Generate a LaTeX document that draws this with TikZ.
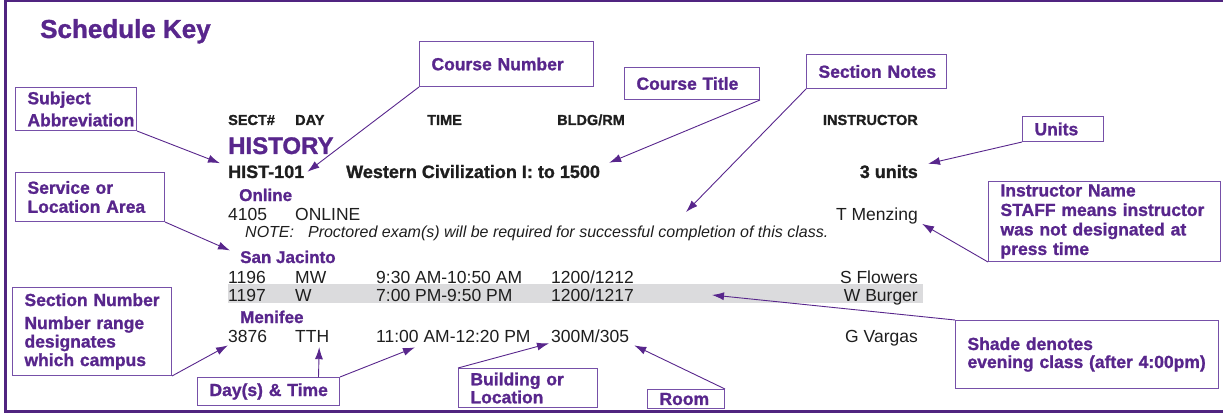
\documentclass[tikz,border=0pt]{standalone}
\usepackage{fontspec}
\setmainfont{Liberation Sans}[BoldFeatures={FakeBold=1.2}]
\usetikzlibrary{arrows.meta}
\definecolor{keypurple}{RGB}{88,38,140}
\definecolor{boxpurple}{RGB}{118,80,168}
\definecolor{framepurple}{RGB}{80,36,128}
\definecolor{rowgray}{RGB}{219,219,221}
\definecolor{ink}{RGB}{30,30,30}
\newcommand{\keysize}[2]{\fontsize{#1}{#2}\selectfont}

\begin{document}
\begin{tikzpicture}[x=1pt, y=-1pt,
  box/.style 2 args={draw=boxpurple, line width=1pt, text=keypurple,
    font=\bfseries\keysize{17.5}{19.5}, align=left, anchor=north west,
    inner xsep=0pt, inner ysep=0pt, text width=#1, minimum height=#2,
    execute at begin node={\leftskip=12pt\relax}},
  arr/.style={keypurple, line width=0.9pt, -{Latex[length=12pt,width=8pt]}},
  hdr/.style={anchor=base west, inner sep=0pt, text=ink, font=\bfseries\keysize{14.5}{16}},
  area/.style={anchor=base west, inner sep=0pt, text=keypurple, font=\bfseries\keysize{17}{19}},
  cell/.style={anchor=base west, inner sep=0pt, text=ink, font=\keysize{17.5}{19}},
  course/.style={anchor=base west, inner sep=0pt, text=ink, font=\bfseries\keysize{18}{20}}]
\useasboundingbox (0,0) rectangle (1223,414);
\draw[framepurple, line width=3pt] (1223,1) -- (5,1) -- (5,411.3) -- (1223,411.3);

% evening row shading
\fill[rowgray] (228,284) rectangle (923,303);

\node[anchor=base west, inner sep=0pt, text=keypurple, font=\bfseries\keysize{26}{30}] (key) at (40,38) {Schedule Key};

% column heads
\node[hdr] (hsect) at (228,125) {SECT\#};
\node[hdr] (hday) at (295,125) {DAY};
\node[hdr] (htime) at (427,125) {TIME};
\node[hdr] (hbldg) at (557,125) {BLDG/RM};
\node[hdr, anchor=base east] (hinstr) at (918,125) {INSTRUCTOR};

\node[anchor=base west, inner sep=0pt, text=keypurple, font=\bfseries\keysize{24}{28}] (subject) at (228,154) {HISTORY};
\node[course] (hcode) at (228,178) {HIST-101};
\node[course] (htitle) at (346,178) {Western Civilization I: to 1500};
\node[course, anchor=base east] (hunits) at (918,178) {3 units};

\node[area] (online) at (239,201) {Online};
\node[cell] (s4105) at (228,220) {4105};
\node[cell] (d4105) at (295,220) {ONLINE};
\node[cell, anchor=base east] (i4105) at (918,220) {T Menzing};
\node[cell, font=\itshape\keysize{16}{18}] (note) at (245,237) {NOTE:\hspace{14pt}Proctored exam(s) will be required for successful completion of this class.};

\node[area] (sanjac) at (240,263) {San Jacinto};
\node[cell] (s1196) at (228,283) {1196};
\node[cell] (d1196) at (295,283) {MW};
\node[cell] (t1196) at (376,283) {9:30 AM-10:50 AM};
\node[cell] (r1196) at (551,283) {1200/1212};
\node[cell, anchor=base east] (i1196) at (918,283) {S Flowers};
\node[cell] (s1197) at (228,301) {1197};
\node[cell] (d1197) at (295,301) {W};
\node[cell] (t1197) at (376,301) {7:00 PM-9:50 PM};
\node[cell] (r1197) at (551,301) {1200/1217};
\node[cell, anchor=base east] (i1197) at (918,301) {W Burger};

\node[area] (menifee) at (240,323) {Menifee};
\node[cell] (s3876) at (228,342) {3876};
\node[cell] (d3876) at (295,342) {TTH};
\node[cell] (t3876) at (376,342) {11:00 AM-12:20 PM};
\node[cell] (r3876) at (551,342) {300M/305};
\node[cell, anchor=base east] (i3876) at (918,342) {G Vargas};

% callout boxes
\node[box={121pt}{43pt}, font=\bfseries\keysize{17.5}{22}] (subj) at (15,87) {Subject\\Abbreviation};
\node[box={174pt}{45pt}] (cnum) at (419,41) {Course Number};
\node[box={135pt}{32pt}] (ctitle) at (624,67) {Course Title};
\node[box={140pt}{34pt}] (snotes) at (806,54) {Section Notes};
\node[box={81pt}{25pt}] (units) at (1022,116) {Units};
\node[box={232pt}{80pt}] (instr) at (988,181) {Instructor Name\\STAFF means instructor\\was not designated at\\press time};
\node[box={149pt}{49pt}, font=\bfseries\keysize{17.5}{19}] (serv) at (15,172) {Service or\\Location Area};
\node[box={159pt}{88pt}, font=\bfseries\keysize{17.5}{18.5}] (secnum) at (12,287) {Section Number\\[4.5pt]Number range\\designates\\which campus};
\node[box={142pt}{28pt}] (daytime) at (197,377) {Day(s) \& Time};
\node[box={139pt}{39pt}, font=\bfseries\keysize{17.5}{18}] (bldg) at (458,368) {Building or\\Location};
\node[box={77pt}{19pt}] (room) at (647,389) {Room};
\node[box={263pt}{68pt}, font=\bfseries\keysize{17.5}{18}] (shade) at (955,320) {Shade denotes\\evening class (after 4:00pm)};

\coordinate (notetip) at (686,212);
\coordinate (shadetip) at (712,295);

\draw[arr] (subj.south east) -- ([xshift=-8pt,yshift=2pt]hcode.north west);
\draw[arr] (cnum.south west) -- ([xshift=3pt]hcode.east);
\draw[arr] (ctitle.south east) -- ([xshift=9pt,yshift=2pt]htitle.north east);
\draw[arr] (snotes.south west) -- (notetip);
\draw[arr] (units.south west) -- ([xshift=10pt,yshift=1pt]hunits.north east);
\draw[arr] (instr.south west) -- ([xshift=4pt]i4105.south east);
\draw[arr] (serv.south east) -- ([xshift=-10pt]sanjac.north west);
\draw[arr] (secnum.south east) -- ([yshift=-3pt]s3876.south west);
\draw[arr] ([xshift=50pt]daytime.north) -- ([xshift=7pt,yshift=-5pt]d3876.south);
\draw[arr] (daytime.north east) -- ([xshift=39pt,yshift=-5pt]t3876.south west);
\draw[arr] (bldg.north west) -- ([xshift=-2pt,yshift=-1pt]r3876.south west);
\draw[arr] (room.north east) -- ([xshift=5pt,yshift=-3pt]r3876.south east);
\draw[arr] (shade.north west) -- (shadetip);
\end{tikzpicture}
\end{document}
